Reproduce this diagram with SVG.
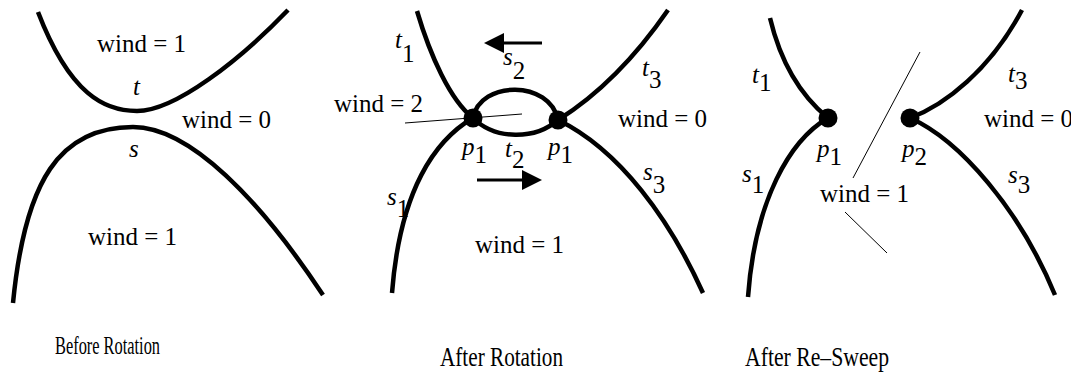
<svg xmlns="http://www.w3.org/2000/svg" width="1071" height="388" viewBox="0 0 1071 388">
<style>
.c{fill:none;stroke:#000;stroke-width:4.5;stroke-linecap:butt}
.thin{fill:none;stroke:#000;stroke-width:1}
.lbl{font-family:"Liberation Serif","Times New Roman",serif;font-size:25px;fill:#000}
.it{font-style:italic}
.cap{font-family:"Liberation Serif","Times New Roman",serif;fill:#000}
.dot{fill:#000}
.ar{fill:none;stroke:#000;stroke-width:3}
</style>
<defs>
<marker id="ah" viewBox="0 0 20 20" refX="2" refY="10" markerWidth="20" markerHeight="20" markerUnits="userSpaceOnUse" orient="auto">
<path d="M0,0 L20,10 L0,20 Z" fill="#000"/>
</marker>
</defs>
<rect width="1071" height="388" fill="#fff"/>

<g id="before">
<path class="c" d="M38,12 C70,95 105,111 137,111 C175,111 240,60 288,10"/>
<path class="c" d="M13,303 C25,180 60,127 133,127 C190,127 260,200 323,295"/>
<text class="lbl" x="97" y="52">wind = 1</text>
<text class="lbl it" x="133" y="95">t</text>
<text class="lbl" x="182" y="128">wind = 0</text>
<text class="lbl it" x="129" y="157">s</text>
<text class="lbl" x="88" y="245">wind = 1</text>
<text class="cap" x="55" y="354" font-size="26" textLength="105" lengthAdjust="spacingAndGlyphs">Before Rotation</text>
</g>

<g id="after-rotation">
<path class="c" d="M417,11 C430,55 450,100 473,118 C495,140 535,140 558,120 C590,100 630,65 668,10"/>
<path class="c" d="M392,293 C400,190 435,140 473,118 C480,80 550,80 558,120 C620,150 670,220 703,293"/>
<circle class="dot" cx="473" cy="118" r="9.5"/>
<circle class="dot" cx="558" cy="120" r="9.5"/>
<line class="thin" x1="405" y1="123" x2="522" y2="114"/>
<text class="lbl it" x="395" y="48">t<tspan font-style="normal" dy="14">1</tspan></text>
<text class="lbl it" x="503" y="65">s<tspan font-style="normal" dy="14">2</tspan></text>
<text class="lbl it" x="642" y="76">t<tspan font-style="normal" dy="12">3</tspan></text>
<text class="lbl" x="334" y="112">wind = 2</text>
<text class="lbl" x="618" y="127">wind = 0</text>
<text class="lbl it" x="462" y="155">p<tspan font-style="normal" dy="8">1</tspan></text>
<text class="lbl it" x="505" y="157">t<tspan font-style="normal" dy="11">2</tspan></text>
<text class="lbl it" x="548" y="155">p<tspan font-style="normal" dy="8">1</tspan></text>
<text class="lbl it" x="643" y="180">s<tspan font-style="normal" dy="13">3</tspan></text>
<text class="lbl it" x="387" y="205">s<tspan font-style="normal" dy="12">1</tspan></text>
<text class="lbl" x="475" y="253">wind = 1</text>
<text class="cap" x="440" y="366" font-size="27" textLength="123" lengthAdjust="spacingAndGlyphs">After Rotation</text>
</g>

<g id="arrows">
<line class="ar" x1="542" y1="43" x2="502" y2="43" marker-end="url(#ah)"/>
<line class="ar" x1="477" y1="180" x2="524" y2="180" marker-end="url(#ah)"/>
</g>

<g id="after-resweep">
<path class="c" d="M770,18 C780,60 800,95 828,118"/>
<path class="c" d="M828,118 C790,140 755,200 748,297"/>
<path class="c" d="M910,118 C945,105 990,70 1022,10"/>
<path class="c" d="M910,118 C960,140 1020,210 1055,295"/>
<circle class="dot" cx="828" cy="118" r="9.5"/>
<circle class="dot" cx="910" cy="118" r="9.5"/>
<line class="thin" x1="920" y1="52" x2="853" y2="178"/>
<line class="thin" x1="845" y1="212" x2="887" y2="253"/>
<text class="lbl it" x="752" y="83">t<tspan font-style="normal" dy="8">1</tspan></text>
<text class="lbl it" x="742" y="182">s<tspan font-style="normal" dy="11">1</tspan></text>
<text class="lbl it" x="817" y="157">p<tspan font-style="normal" dy="8">1</tspan></text>
<text class="lbl it" x="902" y="157">p<tspan font-style="normal" dy="8">2</tspan></text>
<text class="lbl it" x="1008" y="82">t<tspan font-style="normal" dy="7">3</tspan></text>
<text class="lbl it" x="1008" y="183">s<tspan font-style="normal" dy="10">3</tspan></text>
<text class="lbl" x="984" y="127">wind = 0</text>
<text class="lbl" x="820" y="202">wind = 1</text>
<text class="cap" x="745" y="366" font-size="27" textLength="144" lengthAdjust="spacingAndGlyphs">After Re–Sweep</text>
</g>
</svg>
